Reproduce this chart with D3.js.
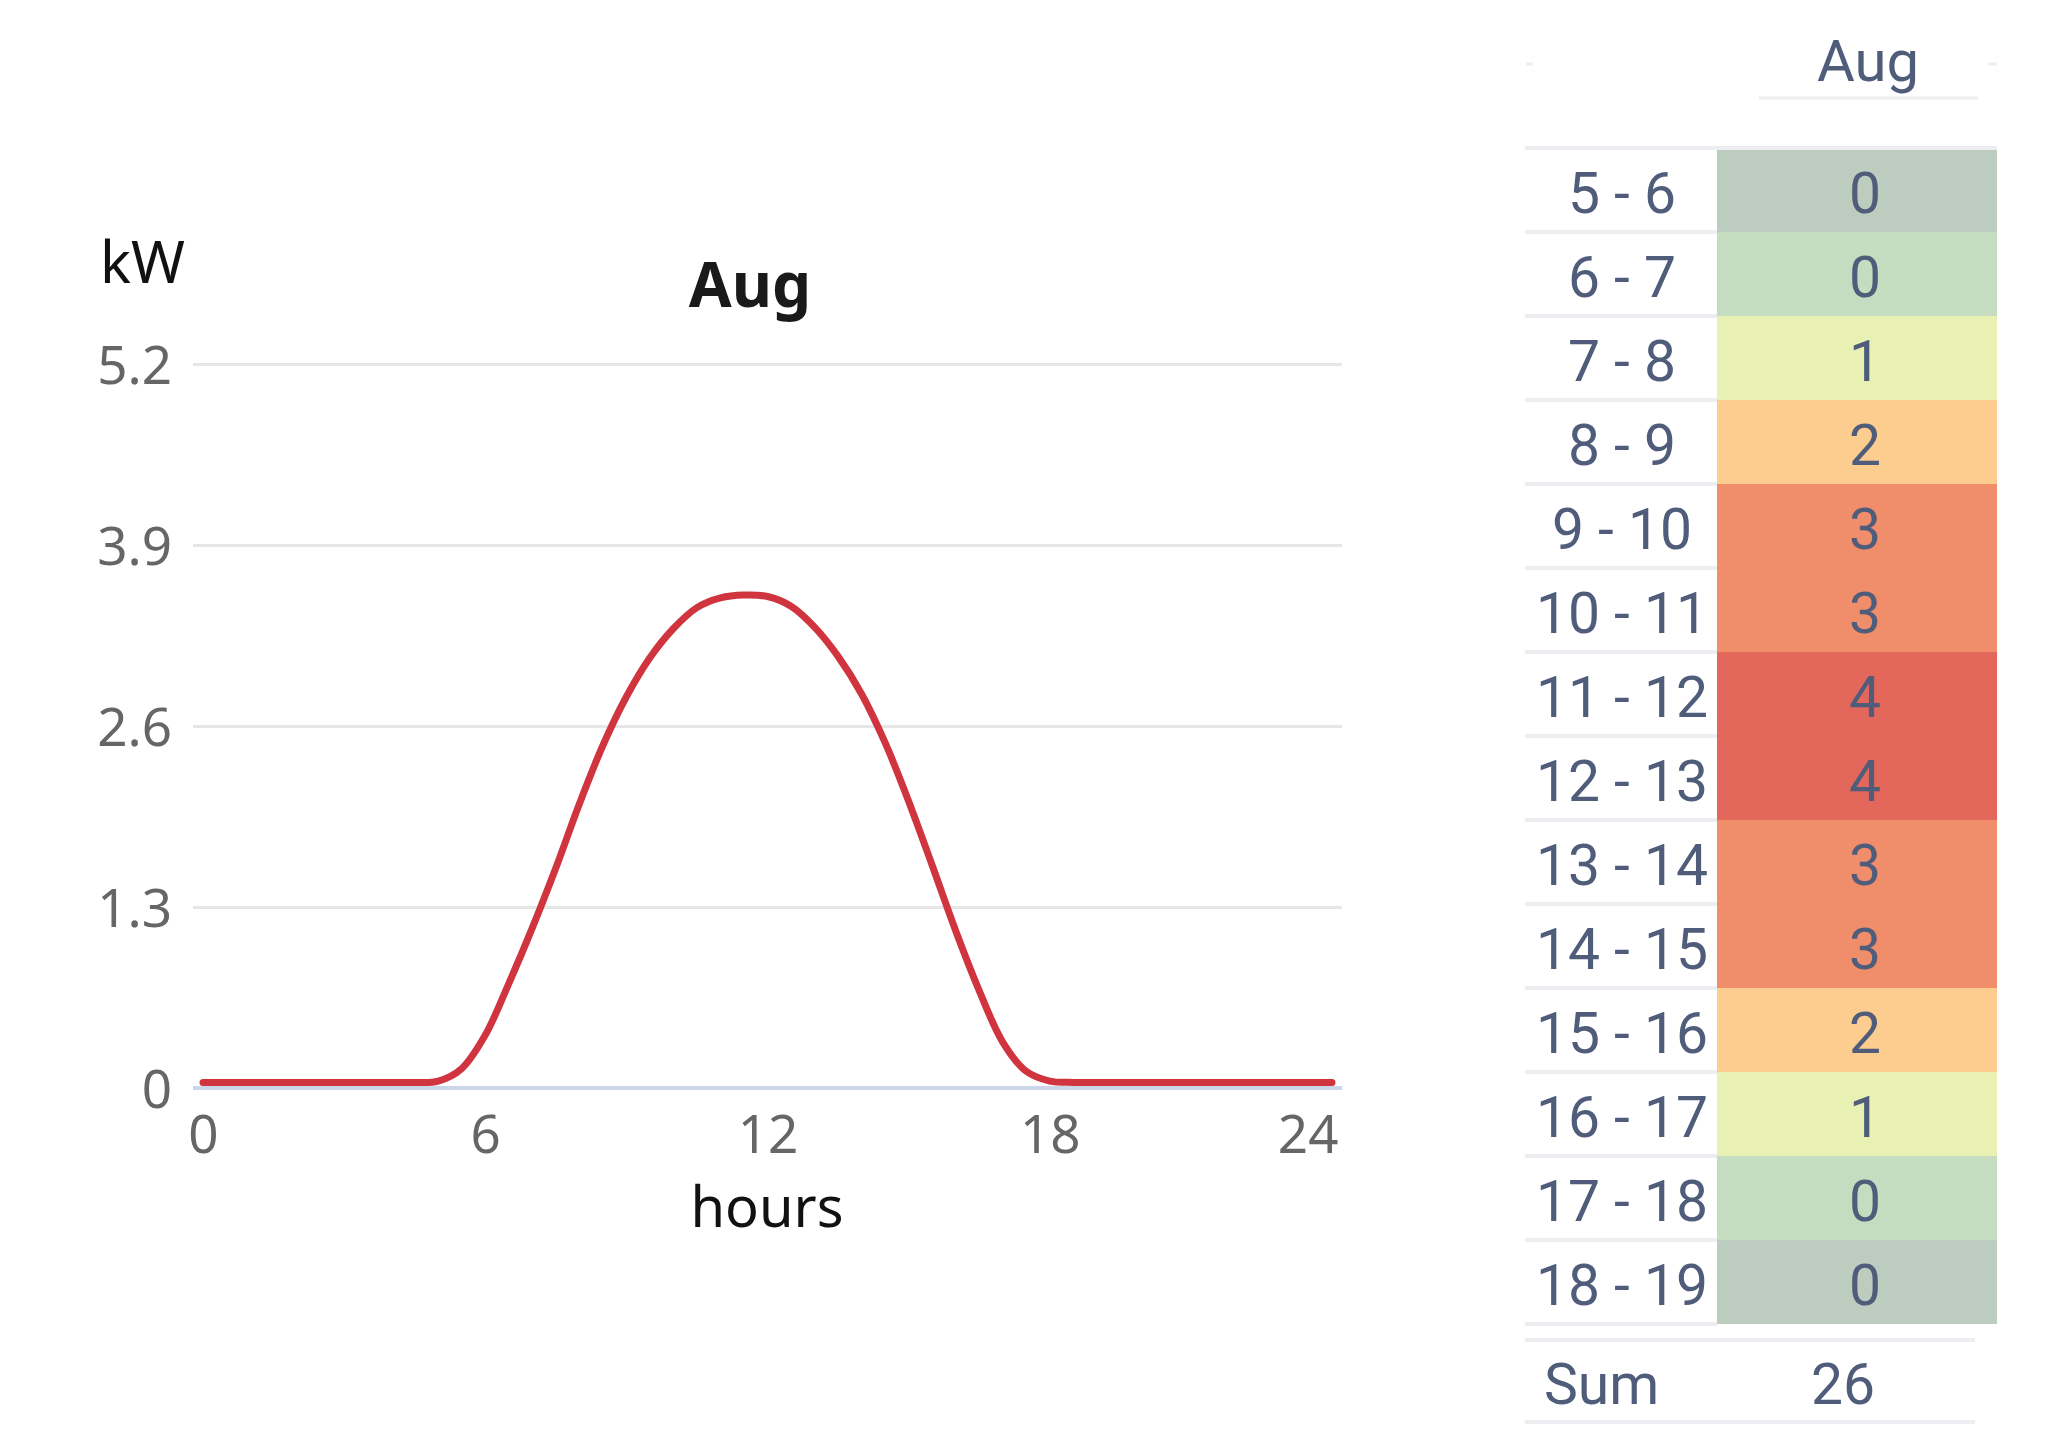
<!DOCTYPE html>
<html>
<head>
<meta charset="utf-8">
<script src="https://cdn.jsdelivr.net/npm/d3@7"></script>
<style>
  html, body { margin: 0; padding: 0; background: #ffffff; }
  svg { display: block; }
</style>
</head>
<body>
<svg id="chart" width="2048" height="1450"></svg>
<script>
// ---------------- DATA ----------------
const chartTitle = "Aug";
const yAxisTitle = "kW";
const xAxisTitle = "hours";
const hours = [0, 0.5, 1, 1.5, 2, 2.5, 3, 3.5, 4, 4.5, 5, 5.5, 6, 6.5, 7, 7.5, 8, 8.5, 9, 9.5,
  10, 10.5, 11, 11.5, 12, 12.5, 13, 13.5, 14, 14.5, 15, 15.5, 16, 16.5, 17, 17.5, 18, 18.5, 19, 19.5,
  20, 20.5, 21, 21.5, 22, 22.5, 23, 23.5, 24];
const power = [0.04, 0.04, 0.04, 0.04, 0.04, 0.04, 0.04, 0.04, 0.04, 0.04, 0.05, 0.14, 0.38, 0.75, 1.15, 1.58, 2.04, 2.46, 2.81, 3.09,
  3.30, 3.45, 3.52, 3.54, 3.53, 3.46, 3.31, 3.10, 2.83, 2.48, 2.06, 1.60, 1.13, 0.70, 0.33, 0.12, 0.05, 0.04, 0.04, 0.04,
  0.04, 0.04, 0.04, 0.04, 0.04, 0.04, 0.04, 0.04, 0.04];
const yTicks = [0, 1.3, 2.6, 3.9, 5.2];
const yTickLabels = ["0", "1.3", "2.6", "3.9", "5.2"];
const xTicks = [0, 6, 12, 18, 24];

const tableHeader = "Aug";
const hourRanges = ["5 - 6", "6 - 7", "7 - 8", "8 - 9", "9 - 10", "10 - 11", "11 - 12", "12 - 13",
  "13 - 14", "14 - 15", "15 - 16", "16 - 17", "17 - 18", "18 - 19"];
const hourValues = [0, 0, 1, 2, 3, 3, 4, 4, 3, 3, 2, 1, 0, 0];
const heatLevel = [0, 1, 2, 3, 4, 4, 5, 5, 4, 4, 3, 2, 1, 0];
const sumLabel = "Sum";
const sumValue = 26;

// ---------------- STYLE ----------------
const heatPalette = ["#bccdbf", "#c4dcbf", "#e8f1b3", "#fdcc8f", "#f08d6b", "#e4675c"];
const tableText = "#4f5d7b";
const ruleGrey = "#eceef1";

const svg = d3.select("#chart");
svg.append("rect").attr("width", 2048).attr("height", 1450).attr("fill", "#fff");

// ---------------- LINE CHART ----------------
const x = d3.scaleLinear().domain([0, 24]).range([203, 1332]);
const y = d3.scaleLinear().domain([0, 5.2]).range([1088, 364]);
const gridLeft = 193, gridRight = 1342;

const yAxis = d3.axisLeft(y)
  .tickValues(yTicks)
  .tickFormat((d, i) => yTickLabels[i])
  .tickSize(-(gridRight - gridLeft))
  .tickPadding(21);
const gy = svg.append("g").attr("transform", `translate(${gridLeft},0)`).call(yAxis);
gy.select(".domain").remove();
gy.selectAll(".tick line").attr("stroke", "#e6e6e6").attr("stroke-width", 3)
  .filter(d => d === 0).attr("stroke", "none");
gy.selectAll(".tick text")
  .attr("font-family", "'Noto Sans', sans-serif")
  .attr("font-size", 53)
  .attr("fill", "#666666")
  .attr("dy", "0.36em");

// x axis line
svg.append("line")
  .attr("x1", gridLeft).attr("x2", gridRight)
  .attr("y1", y(0)).attr("y2", y(0))
  .attr("stroke", "#ccd6eb").attr("stroke-width", 4);

const xAxis = d3.axisBottom(x).tickValues(xTicks).tickSize(0).tickPadding(0);
const gx = svg.append("g").attr("transform", `translate(0,${y(0)})`).call(xAxis);
gx.select(".domain").remove();
gx.selectAll(".tick text")
  .attr("font-family", "'Noto Sans', sans-serif")
  .attr("font-size", 53)
  .attr("fill", "#666666")
  .attr("y", 65).attr("dy", 0)
  .attr("text-anchor", (d, i) => i === xTicks.length - 1 ? "end" : "middle")
  .attr("x", (d, i) => i === xTicks.length - 1 ? 6 : 0);

// the series line
const lineGen = d3.line()
  .x((d, i) => x(hours[i]))
  .y(d => y(d))
  .curve(d3.curveCatmullRom.alpha(0.5));
svg.append("path")
  .datum(power)
  .attr("d", lineGen)
  .attr("fill", "none")
  .attr("stroke", "#d0343f")
  .attr("stroke-width", 7)
  .attr("stroke-linejoin", "round")
  .attr("stroke-linecap", "round");

// titles
svg.append("text").text(chartTitle)
  .attr("x", 750).attr("y", 307)
  .attr("text-anchor", "middle")
  .attr("font-family", "'Noto Sans', sans-serif")
  .attr("font-weight", "bold")
  .attr("font-size", 62)
  .attr("fill", "#1a1a1a");
svg.append("text").text(yAxisTitle)
  .attr("x", 100).attr("y", 283)
  .attr("font-family", "'Noto Sans', sans-serif")
  .attr("font-size", 58)
  .attr("fill", "#111111");
svg.append("text").text(xAxisTitle)
  .attr("x", 767).attr("y", 1227)
  .attr("text-anchor", "middle")
  .attr("font-family", "'Noto Sans', sans-serif")
  .attr("font-size", 56)
  .attr("fill", "#111111");

// ---------------- TABLE ----------------
const tLeft = 1525, tLabelRight = 1717, tRight = 1997, tTop = 148, rowH = 84;
const rowY = d3.scaleBand().domain(d3.range(hourRanges.length))
  .range([tTop, tTop + rowH * hourRanges.length]).padding(0);
const heat = d3.scaleOrdinal().domain(d3.range(heatPalette.length)).range(heatPalette);
const labelCx = (tLeft + tLabelRight) / 2 + 1;
const valueCx = 1865;
const tFont = "Roboto, 'Noto Sans', sans-serif";

// header
svg.append("text").text(tableHeader)
  .attr("x", 1868).attr("y", 81)
  .attr("text-anchor", "middle")
  .attr("font-family", tFont).attr("font-size", 58)
  .attr("fill", tableText);
svg.append("line").attr("x1", 1759).attr("x2", 1978).attr("y1", 98).attr("y2", 98)
  .attr("stroke", ruleGrey).attr("stroke-width", 3);
svg.append("line").attr("x1", 1526).attr("x2", 1533).attr("y1", 64).attr("y2", 64)
  .attr("stroke", ruleGrey).attr("stroke-width", 3);
svg.append("line").attr("x1", 1988).attr("x2", 1997).attr("y1", 64).attr("y2", 64)
  .attr("stroke", ruleGrey).attr("stroke-width", 3);

// top rule
svg.append("line").attr("x1", tLeft).attr("x2", tRight).attr("y1", tTop).attr("y2", tTop)
  .attr("stroke", ruleGrey).attr("stroke-width", 4);

const rows = svg.append("g").selectAll("g.row")
  .data(hourRanges)
  .join("g").attr("class", "row");

rows.append("rect")
  .attr("x", tLabelRight)
  .attr("y", (d, i) => rowY(i) + (i === 0 ? 2 : 0))
  .attr("width", tRight - tLabelRight)
  .attr("height", (d, i) => rowY.bandwidth() - (i === 0 ? 2 : 0))
  .attr("fill", (d, i) => heat(heatLevel[i]));

rows.append("line")
  .attr("x1", tLeft).attr("x2", tLabelRight)
  .attr("y1", (d, i) => rowY(i) + rowY.bandwidth())
  .attr("y2", (d, i) => rowY(i) + rowY.bandwidth())
  .attr("stroke", ruleGrey).attr("stroke-width", 4);

rows.append("text")
  .text(d => d)
  .attr("x", labelCx)
  .attr("y", (d, i) => rowY(i) + rowY.bandwidth() / 2 + 23)
  .attr("text-anchor", "middle")
  .attr("font-family", tFont).attr("font-size", 57)
  .attr("fill", tableText);

rows.append("text")
  .text((d, i) => hourValues[i])
  .attr("x", valueCx)
  .attr("y", (d, i) => rowY(i) + rowY.bandwidth() / 2 + 23)
  .attr("text-anchor", "middle")
  .attr("font-family", tFont).attr("font-size", 57)
  .attr("fill", tableText);

// sum row
svg.append("line").attr("x1", tLeft).attr("x2", 1975).attr("y1", 1340).attr("y2", 1340)
  .attr("stroke", ruleGrey).attr("stroke-width", 4);
svg.append("line").attr("x1", tLeft).attr("x2", 1975).attr("y1", 1422).attr("y2", 1422)
  .attr("stroke", ruleGrey).attr("stroke-width", 4);
svg.append("text").text(sumLabel)
  .attr("x", 1544).attr("y", 1404)
  .attr("font-family", tFont).attr("font-size", 57)
  .attr("fill", tableText);
svg.append("text").text(sumValue)
  .attr("x", 1843).attr("y", 1404)
  .attr("text-anchor", "middle")
  .attr("font-family", tFont).attr("font-size", 57)
  .attr("fill", tableText);
</script>
</body>
</html>
